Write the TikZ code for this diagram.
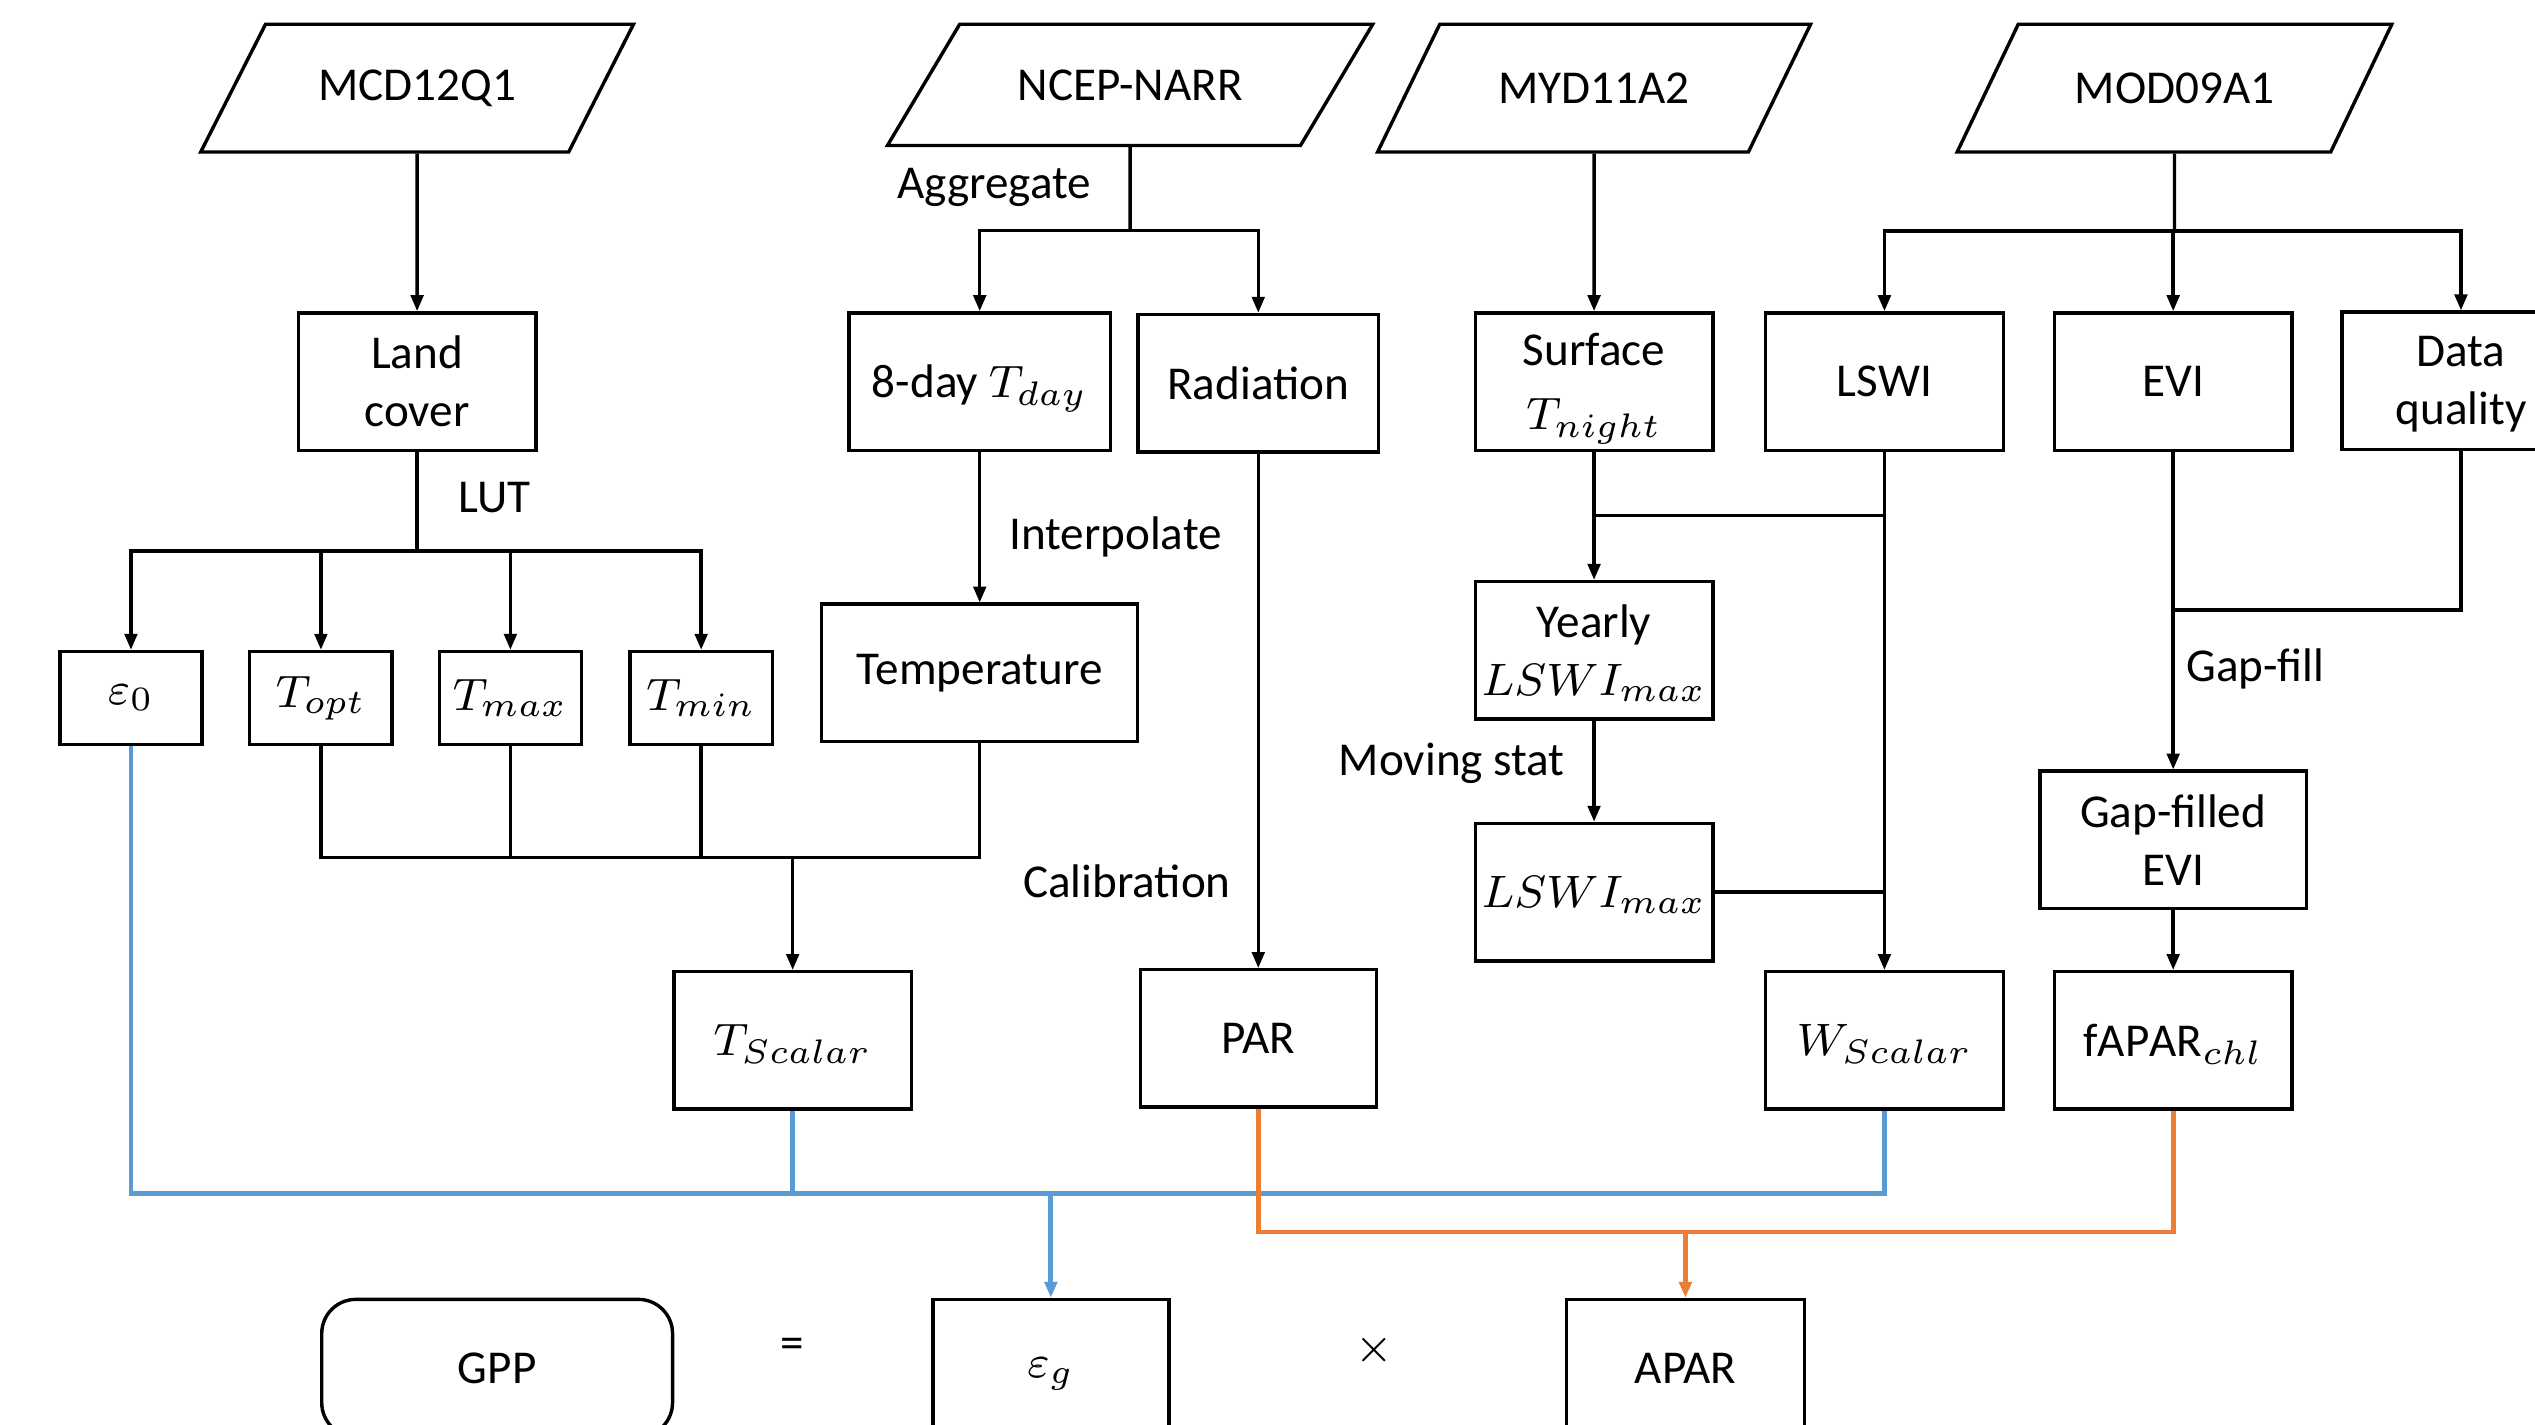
\documentclass[tikz,border=0pt]{standalone}
\usepackage{fontspec}
\setmainfont{Carlito}
\usetikzlibrary{shapes.geometric,arrows.meta}
\definecolor{lineblue}{HTML}{5B9BD5}
\definecolor{lineorange}{HTML}{ED7D31}
\begin{document}
\begin{tikzpicture}[x=0.1cm, y=-0.1cm, font=\fontsize{8.3}{10.2}\selectfont,
  box/.style={draw, line width=0.6pt, minimum width=1.47cm, minimum height=0.85cm, align=center, inner sep=1pt},
  low/.style={text depth=0pt},
  small/.style={box, minimum width=0.88cm, minimum height=0.575cm},
  data/.style={draw, line width=0.6pt, trapezium, trapezium left angle=56, trapezium right angle=124, trapezium stretches=true, minimum width=2.69cm, minimum height=0.79cm},
  arr/.style={-{Triangle[length=2.8pt,width=2.2pt]}, line width=0.6pt},
  lnk/.style={line width=0.6pt},
  bluel/.style={line width=0.85pt, draw=lineblue},
  orangel/.style={line width=0.85pt, draw=lineorange}]
  \useasboundingbox (0,0) rectangle (156.8,88.1);
  \clip (0,0) rectangle (156.8,88.1);
  \node[data] (mcd) at (25.8,5.45) {MCD12Q1};
  \node[data, minimum width=3.02cm, minimum height=0.75cm, trapezium left angle=51, trapezium right angle=129] (ncep) at (69.9,5.25) {NCEP-NARR};
  \node[data] (myd) at (98.6,5.45) {MYD11A2};
  \node[data] (mod) at (134.5,5.45) {MOD09A1};
  \node[box] (land) at (25.8,23.6) {Land\\cover};
  \node[box, low, minimum width=1.615cm] (tday) at (60.6,23.6) {8-day $T_{day}$};
  \node[box, minimum width=1.49cm] (rad) at (77.83,23.7) {Radiation};
  \node[box, low] (surf) at (98.6,23.6) {Surface\\[1pt]$T_{night}$};
  \node[box] (lswi) at (116.56,23.6) {LSWI};
  \node[box] (evi) at (134.42,23.6) {EVI};
  \node[box, low] (dq) at (152.22,23.55) {Data\\quality};
  \node[small] (eps) at (8.1,43.17) {$\varepsilon_0$};
  \node[small] (topt) at (19.85,43.17) {$T_{opt}$};
  \node[small] (tmax) at (31.57,43.17) {$T_{max}$};
  \node[small] (tmin) at (43.37,43.17) {$T_{min}$};
  \node[box, minimum width=1.954cm] (temp) at (60.6,41.62) {Temperature};
  \node[box, low] (yearly) at (98.6,40.22) {Yearly\\$LSWI_{max}$};
  \node[box, low] (lmax) at (98.6,55.18) {$LSWI_{max}$};
  \node[box, minimum width=1.646cm] (gevi) at (134.42,51.95) {Gap-filled\\EVI};
  \node[box, low] (tsc) at (49.03,64.35) {$T_{Scalar}$};
  \node[box, minimum width=1.46cm] (par) at (77.83,64.23) {PAR};
  \node[box, low] (wsc) at (116.56,64.35) {$W_{Scalar}$};
  \node[box, low] (fapar) at (134.42,64.35) {$\mathrm{fAPAR}_{chl}$};
  \node[box, rounded corners=6pt, minimum width=2.17cm] (gpp) at (30.75,84.62) {GPP};
  \node[box, low, minimum width=1.46cm] (epsg) at (65,84.62) {$\varepsilon_g$};
  \node[box] (apar) at (104.25,84.62) {APAR};
  \node (eq) at (49,83.4) {=};
  \node (times) at (85,83.5) {$\times$};
  \node (agg) at (61.5,11.6) {Aggregate};
  \node (lut) at (30.6,30.8) {LUT};
  \node (interp) at (69,33.2) {Interpolate};
  \node (calib) at (69.7,54.5) {Calibration};
  \node (mov) at (89.8,47.2) {Moving stat};
  \node (gapfill) at (139.5,41.4) {Gap-fill};
  \coordinate (lutbar) at (25.8,34.08);
  \coordinate (aggbar) at (69.9,14.25);
  \coordinate (tbar) at (49.03,53.03);
  \coordinate (modbar) at (134.5,14.29);
  \coordinate (night) at (98.6,31.9);
  \coordinate (wet) at (116.56,31.9);
  \coordinate (fillbar) at (134.42,37.74);
  \coordinate (gbar) at (65,73.8);
  \coordinate (abar) at (104.25,76.2);
  \draw[arr] (mcd) -- (land);
  \draw[lnk] (land) -- (lutbar);
  \foreach \n in {eps,topt,tmax,tmin}
    \draw[arr] (lutbar) -| (\n);
  \draw[lnk] (ncep) -- (aggbar);
  \draw[arr] (aggbar) -| (tday);
  \draw[arr] (aggbar) -| (rad);
  \draw[arr] (tday) -- (temp);
  \draw[arr] (rad) -- (par);
  \foreach \n in {topt,tmax,tmin,temp}
    \draw[lnk] (\n) |- (tbar);
  \draw[arr] (tbar) -- (tsc);
  \draw[arr] (myd) -- (surf);
  \draw[lnk] (mod) -- (modbar);
  \foreach \n in {lswi,evi,dq}
    \draw[arr] (modbar) -| (\n);
  \draw[arr] (surf) -- (yearly);
  \draw[lnk] (wet) -- (night);
  \draw[arr] (lswi) -- (wsc);
  \draw[arr] (yearly) -- (lmax);
  \draw[lnk] (lmax) -- (lmax -| wsc);
  \draw[arr] (evi) -- (gevi);
  \draw[lnk] (dq) |- (fillbar);
  \draw[arr] (gevi) -- (fapar);
  \foreach \n in {eps,tsc,wsc}
    \draw[bluel] (\n) |- (gbar);
  \draw[bluel, arr, line width=0.85pt] (gbar) -- (epsg);
  \foreach \n in {par,fapar}
    \draw[orangel] (\n) |- (abar);
  \draw[orangel, arr, line width=0.85pt] (abar) -- (apar);
\end{tikzpicture}
\end{document}
